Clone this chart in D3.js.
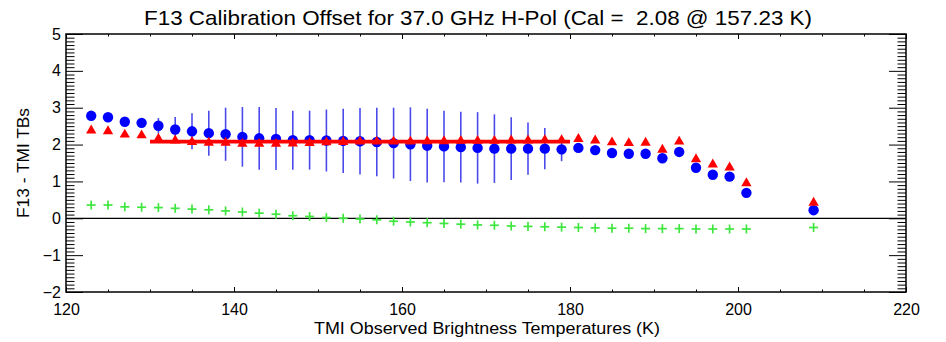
<!DOCTYPE html>
<html>
<head>
<meta charset="utf-8">
<script src="https://cdn.jsdelivr.net/npm/d3@7"></script>
<style>
  body { margin: 0; background: #fff; }
  svg { display: block; font-family: "Liberation Sans", Arial, sans-serif; }
</style>
</head>
<body>
<svg id="chart" width="946" height="342"></svg>
<script>
// TMI brightness temperature bins (K)
var tb = [123, 125, 127, 129, 131, 133, 135, 137, 139, 141, 143, 145, 147, 149, 151, 153, 155, 157, 159, 161,
          163, 165, 167, 169, 171, 173, 175, 177, 179, 181, 183, 185, 187, 189, 191, 193, 195, 197, 199, 201, 209];

// mean F13 - TMI difference (blue circles)
var meanDiff = [2.78, 2.74, 2.62, 2.59, 2.51, 2.41, 2.36, 2.31, 2.28, 2.21, 2.17, 2.15, 2.12, 2.12, 2.11, 2.10, 2.09, 2.07, 2.04, 2.01,
                1.97, 1.95, 1.93, 1.91, 1.89, 1.89, 1.89, 1.89, 1.87, 1.91, 1.85, 1.77, 1.75, 1.75, 1.63, 1.80, 1.37, 1.18, 1.13, 0.69, 0.22];

// std dev of the difference (blue bars), 0 = no bar drawn
var stdDiff = [0, 0, 0, 0, 0.21, 0.34, 0.49, 0.61, 0.72, 0.81, 0.85, 0.84, 0.80, 0.80, 0.84, 0.87, 0.90, 0.93, 0.96, 1.00,
               1.00, 0.97, 0.96, 0.97, 0.93, 0.85, 0.71, 0.56, 0.32, 0.12, 0, 0, 0, 0, 0, 0, 0, 0, 0, 0, 0];

// second estimate (red triangles)
var redDiff = [2.38, 2.36, 2.27, 2.25, 2.16, 2.11, 2.07, 2.05, 2.05, 2.02, 2.02, 2.02, 2.03, 2.04, 2.06, 2.07, 2.08, 2.08, 2.08, 2.08,
               2.09, 2.09, 2.10, 2.10, 2.10, 2.11, 2.11, 2.12, 2.12, 2.15, 2.11, 2.06, 2.04, 2.05, 1.86, 2.08, 1.60, 1.46, 1.38, 0.95, 0.42];

// green crosses
var greenDiff = [0.36, 0.36, 0.31, 0.30, 0.29, 0.27, 0.25, 0.23, 0.20, 0.17, 0.14, 0.11, 0.07, 0.05, 0.02, 0.00, -0.02, -0.04, -0.08, -0.10,
                 -0.12, -0.14, -0.16, -0.18, -0.19, -0.21, -0.22, -0.23, -0.24, -0.25, -0.26, -0.27, -0.27, -0.28, -0.28, -0.28, -0.29, -0.29, -0.29, -0.29, -0.25];

// calibration offset line
var calRange = [130, 180];
var calValue = 2.08;

var xTicks = [120, 140, 160, 180, 200, 220];
var yTicks = [-2, -1, 0, 1, 2, 3, 4, 5];

var titleText = "F13 Calibration Offset for 37.0 GHz H-Pol (Cal =  2.08 @ 157.23 K)";
var xTitle = "TMI Observed Brightness Temperatures (K)";
var yTitle = "F13 - TMI TBs";

var margin = { top: 34, right: 40, bottom: 50, left: 66 };
var width = 946 - margin.left - margin.right;
var height = 342 - margin.top - margin.bottom;

var svg = d3.select("#chart");
var g = svg.append("g").attr("transform", "translate(" + margin.left + "," + margin.top + ")");

var xScale = d3.scaleLinear().domain([120, 220]).range([0, width]);
var yScale = d3.scaleLinear().domain([-2, 5]).range([height, 0]);

var pts = tb.map(function (t, i) {
  return { x: t, blue: meanDiff[i], sd: stdDiff[i], red: redDiff[i], green: greenDiff[i] };
});

// axes: IDL style, ticks pointing inward on all four sides
var xMajor = 5, xMinor = 2.5, yMajor = 17, yMinor = 8.5;
var xMinorVals = d3.range(120, 220.1, 5).filter(function (v) { return v % 20 !== 0; });
var yMinorVals = d3.range(-20, 51).map(function (v) { return v / 10; }).filter(function (v) { return Math.round(v * 10) % 10 !== 0; });

var bottomAxis = d3.axisBottom(xScale).tickValues(xTicks).tickSize(-xMajor).tickPadding(12).tickFormat(d3.format("d"));
var topAxis = d3.axisTop(xScale).tickValues(xTicks).tickSize(-xMajor).tickFormat("");
var leftAxis = d3.axisLeft(yScale).tickValues(yTicks).tickSize(-yMajor).tickPadding(5).tickFormat(d3.format("d"));
var rightAxis = d3.axisRight(yScale).tickValues(yTicks).tickSize(-yMajor).tickFormat("");

function styleAxis(sel) {
  sel.select(".domain").remove();
  sel.selectAll("line").attr("stroke", "#000").attr("stroke-width", 1);
  sel.selectAll("text").attr("fill", "#000").style("font-size", "16px")
    .style("font-family", "'Liberation Sans', Arial, sans-serif");
}

g.append("g").attr("transform", "translate(0," + height + ")").call(bottomAxis).call(styleAxis);
g.append("g").call(topAxis).call(styleAxis);
g.append("g").call(leftAxis).call(styleAxis);
g.append("g").attr("transform", "translate(" + width + ",0)").call(rightAxis).call(styleAxis);

// minor ticks
g.append("g").attr("transform", "translate(0," + height + ")")
  .call(d3.axisBottom(xScale).tickValues(xMinorVals).tickSize(-xMinor).tickFormat("")).call(styleAxis);
g.append("g")
  .call(d3.axisTop(xScale).tickValues(xMinorVals).tickSize(-xMinor).tickFormat("")).call(styleAxis);
g.append("g")
  .call(d3.axisLeft(yScale).tickValues(yMinorVals).tickSize(-yMinor).tickFormat("")).call(styleAxis);
g.append("g").attr("transform", "translate(" + width + ",0)")
  .call(d3.axisRight(yScale).tickValues(yMinorVals).tickSize(-yMinor).tickFormat("")).call(styleAxis);

// frame
g.append("rect").attr("x", 0).attr("y", 0).attr("width", width).attr("height", height)
  .attr("fill", "none").attr("stroke", "#000").attr("stroke-width", 1.5);

// zero line
g.append("line")
  .attr("x1", xScale(120)).attr("x2", xScale(220))
  .attr("y1", yScale(0)).attr("y2", yScale(0))
  .attr("stroke", "#000").attr("stroke-width", 1.3);

// blue error bars
g.selectAll(".ebar")
  .data(pts.filter(function (d) { return d.sd > 0; }))
  .enter().append("line")
  .attr("class", "ebar")
  .attr("x1", function (d) { return xScale(d.x); })
  .attr("x2", function (d) { return xScale(d.x); })
  .attr("y1", function (d) { return yScale(d.blue + d.sd); })
  .attr("y2", function (d) { return yScale(d.blue - d.sd); })
  .attr("stroke", "#2b2bea").attr("stroke-width", 1.6).attr("stroke-opacity", 0.85);

// blue circles
g.selectAll(".dot")
  .data(pts)
  .enter().append("circle")
  .attr("class", "dot")
  .attr("cx", function (d) { return xScale(d.x); })
  .attr("cy", function (d) { return yScale(d.blue); })
  .attr("r", 5.2)
  .attr("fill", "#0000ff");

// red triangles
var tri = d3.symbol().type(d3.symbolTriangle).size(46);
g.selectAll(".tri")
  .data(pts)
  .enter().append("path")
  .attr("class", "tri")
  .attr("d", tri)
  .attr("transform", function (d) { return "translate(" + xScale(d.x) + "," + yScale(d.red) + ")"; })
  .attr("fill", "#ff0000");

// calibration line
g.append("line")
  .attr("x1", xScale(calRange[0])).attr("x2", xScale(calRange[1]))
  .attr("y1", yScale(calValue)).attr("y2", yScale(calValue))
  .attr("stroke", "#ff0000").attr("stroke-width", 3.8);

// green plus signs
var plus = g.selectAll(".plus")
  .data(pts)
  .enter().append("g")
  .attr("class", "plus")
  .attr("transform", function (d) { return "translate(" + xScale(d.x) + "," + yScale(d.green) + ")"; });
plus.append("line").attr("x1", -4.5).attr("x2", 4.5).attr("y1", 0).attr("y2", 0);
plus.append("line").attr("x1", 0).attr("x2", 0).attr("y1", -4.5).attr("y2", 4.5);
plus.selectAll("line").attr("stroke", "#3fe63f").attr("stroke-width", 1.7);

// titles
svg.append("text")
  .attr("x", 478).attr("y", 25)
  .attr("text-anchor", "middle")
  .attr("textLength", 668).attr("lengthAdjust", "spacingAndGlyphs")
  .style("font-size", "21px")
  .style("white-space", "pre")
  .text(titleText);

svg.append("text")
  .attr("x", 487).attr("y", 334)
  .attr("text-anchor", "middle")
  .attr("textLength", 346).attr("lengthAdjust", "spacingAndGlyphs")
  .style("font-size", "16px")
  .text(xTitle);

svg.append("text")
  .attr("transform", "translate(29," + (margin.top + height / 2) + ") rotate(-90)")
  .attr("text-anchor", "middle")
  .attr("textLength", 110).attr("lengthAdjust", "spacingAndGlyphs")
  .style("font-size", "17px")
  .text(yTitle);
</script>
</body>
</html>
